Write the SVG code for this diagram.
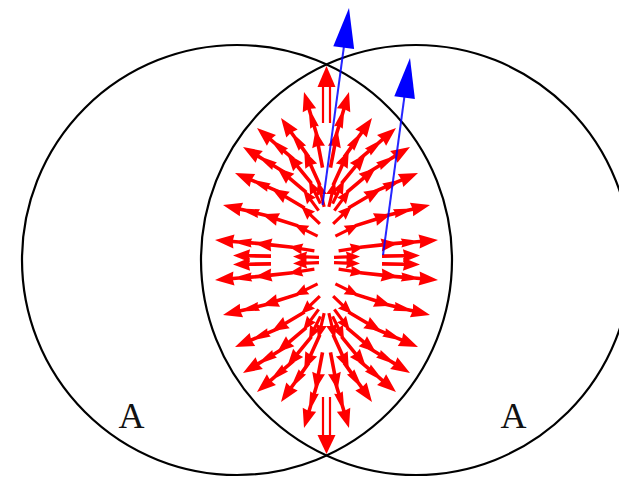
<svg xmlns="http://www.w3.org/2000/svg" width="619" height="477" viewBox="0 0 619 477">
<defs>
<style>
.circ{fill:none;stroke:#000;stroke-width:2.2}
.lbl{font-family:"Liberation Serif","Times New Roman",serif;font-size:36px;fill:#111;text-anchor:middle}
.red{fill:#ff0000;stroke:none}
.rl{stroke:#ff0000;stroke-width:2.2}
.bl{stroke:#0000ff;stroke-width:2;stroke-opacity:0.85;fill:none}
.bh{fill:#0000ff;stroke:none}
</style>
<path id="a1" d="M-48,-1.8 L-36,-1.8 L-37,-4.5 L-24,-1.8 L-18,-1.8 L-19,-7 L0,0 L-19,7 L-18,1.8 L-24,1.8 L-37,4.5 L-36,1.8 L-48,1.8Z"/>
<path id="a2" d="M-38,-1.8 L-16,-1.8 L-17,-6.5 L0,0 L-17,6.5 L-16,1.8 L-38,1.8Z"/>
<path id="a3" d="M-26,-1.6 L-13,-1.6 L-14,-5.6 L0,0 L-14,5.6 L-13,1.6 L-26,1.6Z"/>
<g id="ul">
<use href="#a1" transform="translate(215,240) rotate(184.6)"/>
<use href="#a2" transform="translate(254.9,243.2) rotate(186)"/>
<use href="#a3" transform="translate(288.7,246.8) rotate(188.9)"/>
<use href="#a2" transform="translate(233,255.5) rotate(181)"/>
<use href="#a3" transform="translate(293,256.5) rotate(182)"/>
<use href="#a1" transform="translate(223,205) rotate(193.5)"/>
<use href="#a2" transform="translate(261.9,214.3) rotate(197.7)"/>
<use href="#a3" transform="translate(294.3,224.6) rotate(206.3)"/>
<use href="#a1" transform="translate(235,173) rotate(203.2)"/>
<use href="#a2" transform="translate(271.8,188.7) rotate(210.4)"/>
<use href="#a3" transform="translate(301.1,205.9) rotate(223.8)"/>
<use href="#a1" transform="translate(243,147) rotate(211.3)"/>
<use href="#a2" transform="translate(277.2,167.8) rotate(220.1)"/>
<use href="#a3" transform="translate(303.2,189.7) rotate(233.6)"/>
<use href="#a1" transform="translate(257,128) rotate(220.5)"/>
<use href="#a2" transform="translate(287.4,154) rotate(230.7)"/>
<use href="#a3" transform="translate(309,180.3) rotate(243.9)"/>
<use href="#a1" transform="translate(281,118) rotate(234.6)"/>
<use href="#a2" transform="translate(304.2,150.6) rotate(245.6)"/>
<use href="#a3" transform="translate(318.2,181.6) rotate(256.8)"/>
<use href="#a1" transform="translate(304,92) rotate(253.4)"/>
<use href="#a2" transform="translate(315.4,130.3) rotate(259.2)"/>
</g>
</defs>
<rect width="619" height="477" fill="#fff"/>
<g id="field" class="red">
<use href="#ul"/>
<use href="#ul" transform="translate(653,0) scale(-1,1)"/>
<use href="#ul" transform="translate(0,520) scale(1,-1)"/>
<use href="#ul" transform="translate(653,520) scale(-1,-1)"/>
<path d="M317.5,87 L326.5,66 L335.5,87 Z"/>
<line class="rl" x1="323" y1="84" x2="323" y2="123"/>
<line class="rl" x1="330" y1="84" x2="330" y2="123"/>
<path d="M317.5,435 L326.5,454 L335.5,435 Z"/>
<line class="rl" x1="323" y1="397" x2="323" y2="438"/>
<line class="rl" x1="330" y1="397" x2="330" y2="438"/>
</g>
<g id="circles">
<circle id="circle-left" class="circ" cx="237" cy="260" r="215"/>
<circle id="circle-right" class="circ" cx="416" cy="260" r="215"/>
</g>
<g id="vectors">
<line class="bl" x1="322.5" y1="205" x2="344" y2="46"/>
<path class="bh" d="M349,8 L354.1,49 L333.3,46.2 Z"/>
<line class="bl" x1="383" y1="255" x2="404.5" y2="96"/>
<path class="bh" d="M410,58 L414.9,99 L394.3,96.2 Z"/>
</g>
<g id="labels">
<text class="lbl" x="131.5" y="428">A</text>
<text class="lbl" x="513.5" y="428">A</text>
</g>
</svg>
